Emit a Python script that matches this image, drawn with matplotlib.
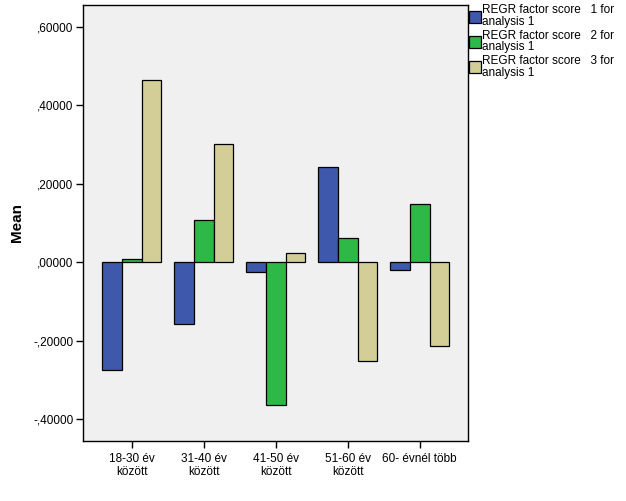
import numpy as np
import matplotlib
matplotlib.use('Agg')
import matplotlib.pyplot as plt
from matplotlib.patches import Patch
from matplotlib.ticker import FuncFormatter

plt.rcParams['font.family'] = ['Liberation Sans', 'DejaVu Sans']

groups = ['18-30 év\nközött', '31-40 év\nközött', '41-50 év\nközött', '51-60 év\nközött', '60- évnél több']
score1 = [-0.276, -0.157, -0.025, 0.244, -0.020]
score2 = [0.009, 0.108, -0.365, 0.062, 0.148]
score3 = [0.464, 0.302, 0.023, -0.251, -0.213]
series_labels = ['REGR factor score   1 for\nanalysis 1',
                 'REGR factor score   2 for\nanalysis 1',
                 'REGR factor score   3 for\nanalysis 1']
colors = ['#3e58ac', '#2eb848', '#d3ce97']

fig = plt.figure(figsize=(6.26, 5.01), dpi=100)
ax = fig.add_axes([83 / 626, 1 - 441 / 501, (468 - 83) / 626, (441 - 5) / 501])
ax.set_facecolor('#f0f0f0')

x = np.arange(len(groups))
w = 0.275
for i, vals in enumerate([score1, score2, score3]):
    ax.bar(x + (i - 1) * w, vals, width=w, color=colors[i],
           edgecolor='black', linewidth=0.9, zorder=3)

ax.set_xlim(-0.676, 4.67)
ax.set_ylim(-0.456, 0.656)
ax.set_yticks([-0.4, -0.2, 0.0, 0.2, 0.4, 0.6])

def fmt(v, pos):
    s = '%.5f' % v
    s = s.replace('0.', '.').replace('.', ',')
    if s.startswith('-0'):
        s = '-' + s[2:]
    return s

ax.yaxis.set_major_formatter(FuncFormatter(fmt))
ax.set_xticks(x)
ax.set_xticklabels(groups, fontsize=8.5, linespacing=1.05)
ax.tick_params(axis='y', labelsize=8.5, direction='out', length=5, width=1, pad=2)
ax.tick_params(axis='x', direction='out', length=5, width=1, pad=4)
ax.set_ylabel('Mean', fontsize=11, fontweight='bold')
ax.yaxis.set_label_coords(-0.153, 0.5)
for sp in ax.spines.values():
    sp.set_linewidth(1.0)

handles = [Patch(facecolor=c, edgecolor='black', linewidth=0.9) for c in colors]
leg = fig.legend(handles, series_labels, loc='upper left', bbox_to_anchor=(467 / 626, 1 - 2 / 501),
                 frameon=False, fontsize=8.5, handlelength=0.95, handleheight=1.2,
                 handletextpad=0.12, labelspacing=0.15, borderaxespad=0, borderpad=0.2)
for t in leg.get_texts():
    t.set_linespacing(0.95)

fig.savefig('out.png', dpi=100)
